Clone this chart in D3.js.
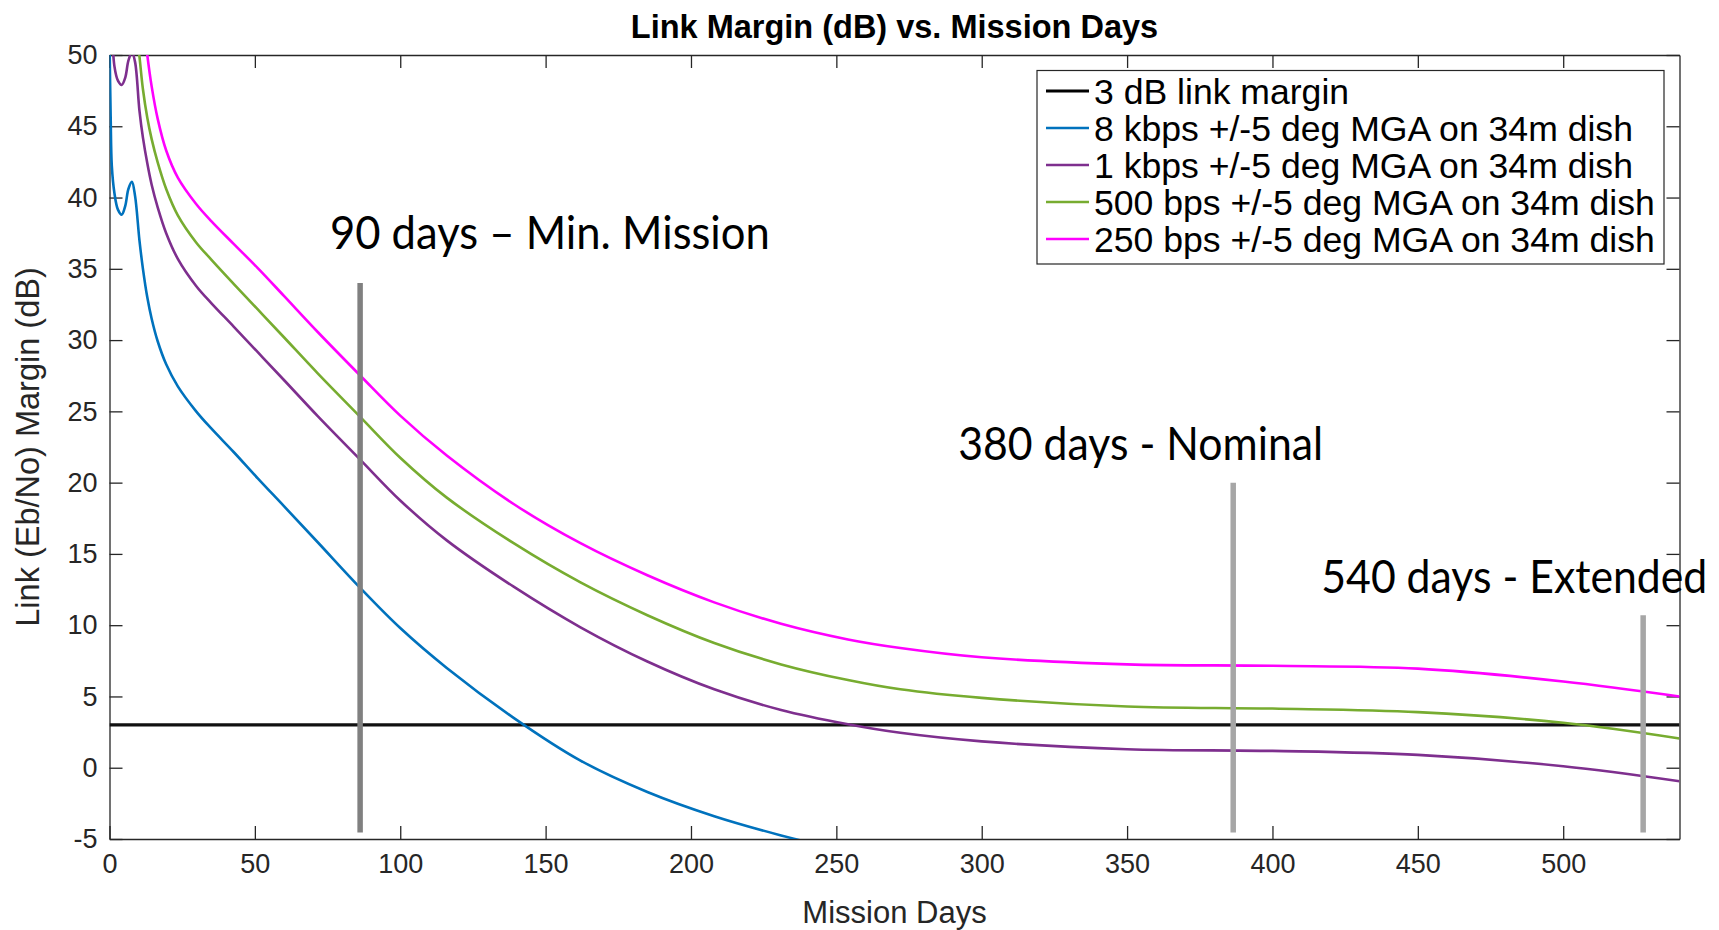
<!DOCTYPE html>
<html>
<head>
<meta charset="utf-8">
<script src="https://cdn.jsdelivr.net/npm/d3@7"></script>
<style>
  body { margin: 0; background: #fff; }
  text { font-family: "Liberation Sans", Arial, Helvetica, sans-serif; }
</style>
</head>
<body>
<div id="chart"></div>
<script>
var width = 1719;
var height = 930;
var margin = {top: 55, left: 109.5, right: 39.5, bottom: 91};

// mission day samples
var days = [0, 0.4, 0.8, 1.7, 2.9, 4.2, 5.4, 6.5, 7.7, 8.8, 10.3, 11.5, 13, 14.5, 16.6, 19.5, 23.5, 29.8, 35, 42.7,
            51, 60, 71.7, 86.3, 100, 116, 139, 162, 185, 208, 231, 254, 272, 300, 350, 400, 450, 500, 540];

// link margin (dB) for each data rate
var kbps8  = [51, 45.7, 42.2, 40.3, 39.15, 38.8, 39.4, 40.6, 41.1, 40.1, 37.0, 35.0, 33.0, 31.5, 29.9, 28.3, 26.75, 25.0, 23.8, 22.15,
              20.3, 18.35, 15.8, 12.6, 9.8, 7.0, 3.5, 0.5, -1.7, -3.4, -4.75, -5.9, null, null, null, null, null, null, null];
var kbps1  = [56, 54, 52, 49.2, 48.2, 47.9, 48.4, 49.6, 50.2, 49.5, 46.1, 44.2, 42.4, 40.9, 39.3, 37.5, 35.7, 33.8, 32.6, 30.95,
              29.15, 27.2, 24.65, 21.6, 18.75, 15.95, 12.7, 9.85, 7.45, 5.5, 4.05, 3.05, 2.45, 1.85, 1.3, 1.18, 0.9, 0.1, -0.95];
var bps500 = [59, 57.5, 56, 53.5, 51.8, 51.2, 51.6, 52.6, 53.2, 52.6, 49.9, 47.6, 45.6, 44.1, 42.45, 40.6, 38.75, 36.85, 35.65, 33.95,
              32.15, 30.2, 27.65, 24.6, 21.75, 18.95, 15.75, 13.0, 10.7, 8.75, 7.25, 6.15, 5.5, 4.9, 4.3, 4.15, 3.9, 3.15, 2.05];
var bps250 = [62, 60.5, 59, 56.5, 54.8, 54.2, 54.6, 55.6, 56.2, 56.8, 55.0, 52.8, 50.0, 47.8, 45.5, 43.3, 41.4, 39.55, 38.35, 36.75,
              35.05, 33.1, 30.55, 27.5, 24.7, 21.9, 18.5, 15.75, 13.5, 11.6, 10.1, 9.0, 8.4, 7.75, 7.25, 7.15, 6.95, 6.05, 5.0];
var threshold = 3;

var xTicks = [0, 50, 100, 150, 200, 250, 300, 350, 400, 450, 500];
var yTicks = [-5, 0, 5, 10, 15, 20, 25, 30, 35, 40, 45, 50];

var legendNames = ["3 dB link margin", "8 kbps +/-5 deg MGA on 34m dish", "1 kbps +/-5 deg MGA on 34m dish",
                   "500 bps +/-5 deg MGA on 34m dish", "250 bps +/-5 deg MGA on 34m dish"];
var legendColors = ["#000000", "#0072BD", "#7E2F8E", "#77AC30", "#FF00FF"];

// milestone bars: day, top of bar (dB), label
var milestoneDays = [86.2, 386.5, 527.5];
var milestoneTops = [34, 20, 10.7];
var milestoneLabels = ["90 days \u2013 Min. Mission", "380 days - Nominal", "540 days - Extended"];
var milestoneColors = ["#808080", "#a6a6a6", "#a6a6a6"];

var svg = d3.select("#chart")
  .append("svg")
  .attr("width", width)
  .attr("height", height);

var x = d3.scaleLinear().domain([0, 540]).range([margin.left, width - margin.right]);
var y = d3.scaleLinear().domain([-5, 50]).range([height - margin.bottom, margin.top]);

svg.append("clipPath")
  .attr("id", "plotclip")
  .append("rect")
  .attr("x", x(0))
  .attr("y", y(50))
  .attr("width", x(540) - x(0))
  .attr("height", y(-5) - y(50));

var axisColor = "#262626";
var plain = function(d) { return String(d); };

// axes (box on, ticks inward)
svg.append("g")
  .attr("transform", "translate(0," + y(-5) + ")")
  .call(d3.axisBottom(x).tickValues(xTicks).tickFormat(plain).tickSizeInner(-13).tickSizeOuter(0).tickPadding(15));
svg.append("g")
  .attr("transform", "translate(0," + y(50) + ")")
  .call(d3.axisTop(x).tickValues(xTicks).tickSizeInner(-13).tickSizeOuter(0).tickFormat(""));
svg.append("g")
  .attr("transform", "translate(" + x(0) + ",0)")
  .call(d3.axisLeft(y).tickValues(yTicks).tickFormat(plain).tickSizeInner(-13).tickSizeOuter(0).tickPadding(12));
svg.append("g")
  .attr("transform", "translate(" + x(540) + ",0)")
  .call(d3.axisRight(y).tickValues(yTicks).tickSizeInner(-13).tickSizeOuter(0).tickFormat(""));

svg.selectAll(".domain, .tick line")
  .attr("stroke", axisColor)
  .attr("stroke-width", 1.3);
svg.selectAll(".tick text")
  .attr("fill", axisColor)
  .style("font-size", "27px")
  .style("font-family", "Liberation Sans, Arial, sans-serif");

// curves
var plot = svg.append("g").attr("clip-path", "url(#plotclip)");

plot.append("line")
  .attr("x1", x(0))
  .attr("x2", x(540))
  .attr("y1", y(threshold))
  .attr("y2", y(threshold))
  .attr("stroke", "#111")
  .attr("stroke-width", 3.2);

var line = d3.line()
  .defined(function(d) { return d[1] !== null; })
  .x(function(d) { return x(d[0]); })
  .y(function(d) { return y(d[1]); })
  .curve(d3.curveCatmullRom.alpha(0.5));

var allSeries = [kbps8, kbps1, bps500, bps250];
allSeries.forEach(function(vals, i) {
  plot.append("path")
    .datum(days.map(function(d, j) { return [d, vals[j]]; }))
    .attr("fill", "none")
    .attr("stroke", legendColors[i + 1])
    .attr("stroke-width", 2.6)
    .attr("d", line);
});

// milestone bars
milestoneDays.forEach(function(d, i) {
  svg.append("line")
    .attr("x1", x(d))
    .attr("x2", x(d))
    .attr("y1", y(milestoneTops[i]))
    .attr("y2", y(-4.55))
    .attr("stroke", milestoneColors[i])
    .attr("stroke-width", 5.5);
});

// milestone labels (pasted-on text): left edge in days, baseline in dB
var labelDays = [75.8, 291.9, 416.8];
var labelBase = [36.4, 21.6, 12.25];
var labelWidths = [440, 365, 386];
milestoneLabels.forEach(function(t, i) {
  svg.append("text")
    .attr("x", x(labelDays[i]))
    .attr("y", y(labelBase[i]))
    .attr("textLength", labelWidths[i])
    .attr("lengthAdjust", "spacingAndGlyphs")
    .style("font-family", "Lato, 'Open Sans', sans-serif")
    .style("font-size", "46px")
    .attr("fill", "#000")
    .text(t);
});

// legend
var legend = svg.append("g").attr("transform", "translate(1037,70.5)");
legend.append("rect")
  .attr("width", 627)
  .attr("height", 193.5)
  .attr("fill", "#fff")
  .attr("stroke", axisColor)
  .attr("stroke-width", 1.2);

legendNames.forEach(function(name, i) {
  var cy = 20.5 + i * 37;
  legend.append("line")
    .attr("x1", 9)
    .attr("x2", 52)
    .attr("y1", cy)
    .attr("y2", cy)
    .attr("stroke", legendColors[i])
    .attr("stroke-width", i === 0 ? 3 : 2.6);
  legend.append("text")
    .attr("x", 57)
    .attr("y", cy + 12.5)
    .style("font-size", "35.6px")
    .attr("fill", "#000")
    .text(name);
});

// title and axis labels
svg.append("text")
  .attr("x", (x(0) + x(540)) / 2)
  .attr("y", 38)
  .attr("text-anchor", "middle")
  .style("font-size", "32.5px")
  .style("font-weight", "bold")
  .attr("fill", "#000")
  .text("Link Margin (dB) vs. Mission Days");

svg.append("text")
  .attr("x", (x(0) + x(540)) / 2)
  .attr("y", 923)
  .attr("text-anchor", "middle")
  .style("font-size", "31px")
  .attr("fill", axisColor)
  .text("Mission Days");

svg.append("text")
  .attr("transform", "translate(39," + (y(50) + y(-5)) / 2 + ") rotate(-90)")
  .attr("text-anchor", "middle")
  .style("font-size", "32.5px")
  .attr("fill", axisColor)
  .text("Link (Eb/No) Margin (dB)");
</script>
</body>
</html>
